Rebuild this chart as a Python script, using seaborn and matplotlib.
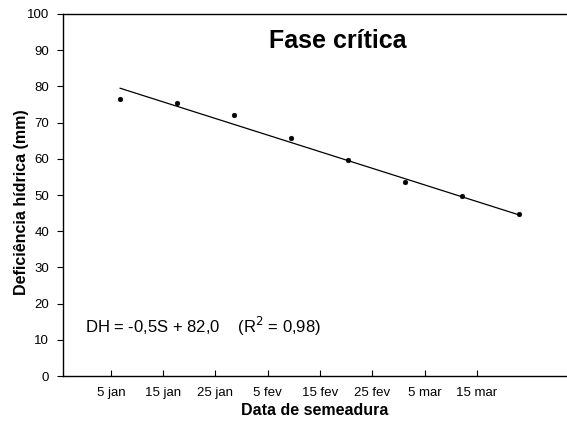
import seaborn as sns
import matplotlib.pyplot as plt
import numpy as np
import pandas as pd

# Datas de semeadura (dias desde 1 jan) e deficiência hídrica observada
dias = [5, 15, 25, 35, 45, 55, 65, 75]
deficiencia = [76.6, 75.3, 72.1, 65.8, 59.8, 53.5, 49.8, 44.8]
rotulos = ['5 jan', '15 jan', '25 jan', '5 fev', '15 fev', '25 fev', '5 mar', '15 mar']

# Coeficientes da regressão: DH = -0,5S + 82,0
coef_a = 82.0
coef_b = -0.5

df = pd.DataFrame({'S': dias, 'DH': deficiencia})
df_reta = pd.DataFrame({'S': [dias[0], dias[-1]]})
df_reta['DH'] = coef_a + coef_b * df_reta['S']

sns.set_style('ticks')
plt.rcParams['font.family'] = ['Liberation Sans', 'DejaVu Sans']
plt.rcParams['text.color'] = 'black'
plt.rcParams['axes.labelcolor'] = 'black'
plt.rcParams['xtick.color'] = 'black'
plt.rcParams['ytick.color'] = 'black'

fig = plt.figure(figsize=(5.67, 4.23), dpi=100)
ax = fig.add_axes([0.111, 0.111, 0.889, 0.856])

sns.lineplot(x='S', y='DH', data=df_reta, color='black', linewidth=0.9, ax=ax)
sns.scatterplot(x='S', y='DH', data=df, color='black', s=12, edgecolor='black', ax=ax, zorder=3)

ax.set_xlim(-5, 83.4)
ax.set_ylim(0, 100)
ax.set_yticks(np.arange(0, 101, 10))
# os ticks do original não coincidem exatamente com os pontos
ax.set_xticks(np.linspace(3.4, 67.6, 8))
ax.set_xticklabels(rotulos)

ax.tick_params(axis='y', direction='out', length=4, width=0.8, labelsize=9.5, pad=6)
ax.tick_params(axis='x', direction='in', length=4, width=0.8, labelsize=9.5, pad=8)

for lado in ['left', 'bottom', 'top']:
    ax.spines[lado].set_linewidth(1.0)
    ax.spines[lado].set_color('black')
ax.spines['right'].set_visible(False)

ax.set_xlabel('Data de semeadura', fontsize=11.5, fontweight='bold', labelpad=3)
ax.set_ylabel('Deficiência hídrica (mm)', fontsize=11.5, fontweight='bold')
ax.yaxis.set_label_coords(-0.068, 0.48)

ax.text(0.545, 0.925, 'Fase crítica', transform=ax.transAxes, ha='center', va='center',
        fontsize=18, fontweight='bold')
ax.text(0.043, 0.136, r'DH = -0,5S + 82,0    (R$^2$ = 0,98)', transform=ax.transAxes,
        ha='left', va='center', fontsize=12)

fig.savefig('out.png', dpi=100)
